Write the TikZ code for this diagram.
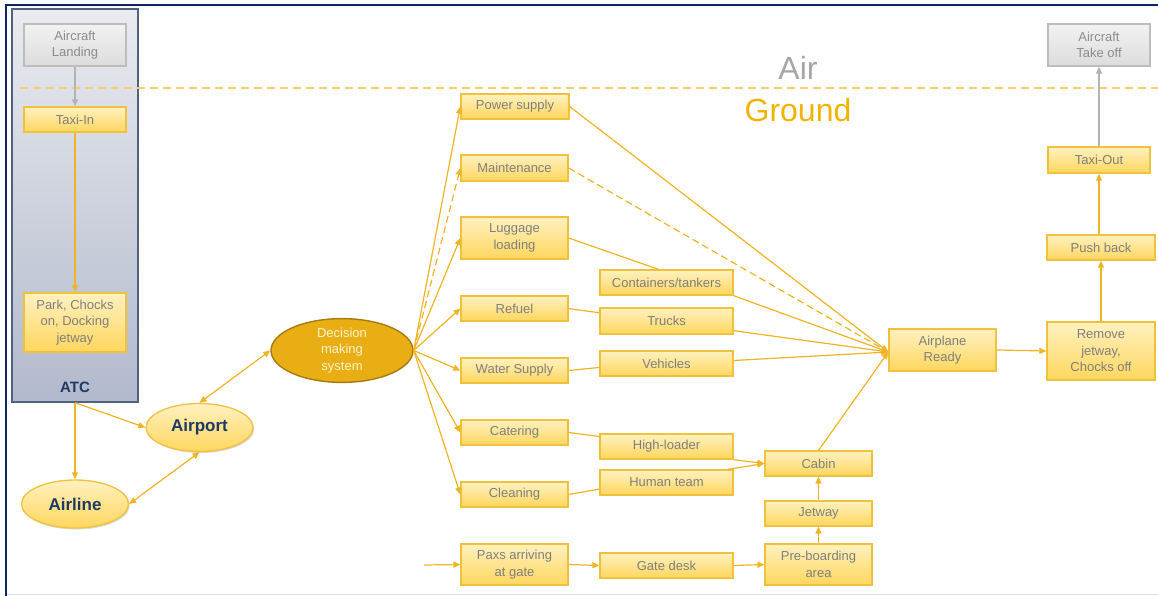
\documentclass[tikz,border=0pt]{standalone}
\usepackage{fontspec}
\setmainfont{Liberation Sans}
\usetikzlibrary{arrows.meta,shapes.geometric,shadows,calc}

\definecolor{flowcol}{HTML}{F0B323}
\definecolor{boxline}{HTML}{F2C13C}
\definecolor{boxtop}{HTML}{FFF1C0}
\definecolor{boxbot}{HTML}{FFD75E}
\definecolor{txtgray}{HTML}{7F7F7F}
\definecolor{greyline}{HTML}{BDBDBD}
\definecolor{greytop}{HTML}{F2F2F2}
\definecolor{greybot}{HTML}{DCDCDC}
\definecolor{greytxt}{HTML}{8C8C8C}
\definecolor{greyarrow}{HTML}{B3B3B3}
\definecolor{navy}{HTML}{0F2461}
\definecolor{atcline}{HTML}{50627E}
\definecolor{atctop}{HTML}{E9EBF0}
\definecolor{atcbot}{HTML}{B2B9CC}
\definecolor{labelnavy}{HTML}{1F3864}
\definecolor{dmsfill}{HTML}{E9AE14}
\definecolor{dmsline}{HTML}{A47B0E}
\definecolor{dmstext}{HTML}{FFF3CC}
\definecolor{sepcol}{HTML}{F7CD70}
\definecolor{aircol}{HTML}{A6A6A6}
\definecolor{groundcol}{HTML}{F0B400}
\definecolor{framegray}{HTML}{D9DCE3}

\begin{document}
\begin{tikzpicture}[x=1pt,y=-1pt,
  box/.style={draw=boxline, line width=1.3pt, top color=boxtop, bottom color=boxbot,
    text=txtgray, font=\fontsize{13}{16.5}\selectfont, align=center, inner sep=0pt,
    minimum width=107pt, minimum height=25pt,
    drop shadow={shadow xshift=1.2pt, shadow yshift=-1.2pt, fill=black, opacity=0.15}},
  greybox/.style={box, draw=greyline, top color=greytop, bottom color=greybot, text=greytxt},
  actor/.style={ellipse, draw=boxline, line width=1.3pt, top color=boxtop, bottom color=boxbot,
    text=labelnavy, font=\fontsize{17}{20}\selectfont\bfseries, inner sep=0pt,
    minimum width=107pt, minimum height=48pt,
    drop shadow={shadow xshift=1.2pt, shadow yshift=-1.5pt, fill=black, opacity=0.15}},
  flow/.style={draw=flowcol, line width=1.2pt},
  arr/.style={flow, -{Triangle[length=7pt,width=6pt]}},
  darr/.style={flow, {Triangle[length=7pt,width=6pt]}-{Triangle[length=7pt,width=6pt]}},
  greyarr/.style={draw=greyarrow, line width=1.2pt, -{Triangle[length=7pt,width=6pt]}},
  optional/.style={dash pattern=on 7pt off 4pt}
]
\useasboundingbox (0,0) rectangle (1158,596);

% page frame
\draw[framegray, line width=1.2pt] (6,594.5) -- (1158,594.5);
\draw[navy, line width=2pt] (6,596) -- (6,5) -- (1158,5);

% ATC swimlane
\node[draw=atcline, line width=1.3pt, top color=atctop, bottom color=atcbot,
      minimum width=126pt, minimum height=393pt, inner sep=0pt] (atc) at (75,205.5) {};
\node[text=labelnavy, font=\fontsize{15}{18}\selectfont\bfseries] (atclabel) at (75,387) {ATC};

% air / ground separator
\coordinate (sepL) at (20,88);
\coordinate (sepR) at (1158,88);
\draw[sepcol, line width=1.6pt, dash pattern=on 8pt off 5pt] (sepL) -- (sepR);
\node[text=aircol, font=\fontsize{32}{36}\selectfont] (air) at (798,68) {Air};
\node[text=groundcol, font=\fontsize{32}{36}\selectfont] (ground) at (798,110) {Ground};

% arrival side
\node[greybox, minimum width=102pt, minimum height=42pt] (AL) at (75,45) {Aircraft\\Landing};
\node[box, minimum width=102pt] (TI) at (75,119.5) {Taxi-In};
\node[box, minimum width=102pt, minimum height=59pt] (PK) at (75,322.5) {Park, Chocks\\on, Docking\\jetway};

% actors
\node[actor] (airport) at (199.5,427.5) {Airport};
\node[actor] (airline) at (75,504) {Airline};
\node[ellipse, draw=dmsline, line width=1.4pt, fill=dmsfill, text=dmstext,
      font=\fontsize{13}{16.5}\selectfont, align=center, inner sep=0pt,
      minimum width=142pt, minimum height=47pt] (dms) at (342,350.5) {Decision\\making\\system};

% ground services
\node[box, minimum width=108pt] (ps) at (515,106.5) {Power supply};
\node[box, minimum height=26pt] (mt) at (514.5,168) {Maintenance};
\node[box, minimum height=42pt] (ll) at (514.5,238) {Luggage\\loading};
\node[box] (rf) at (514.5,308.5) {Refuel};
\node[box] (ws) at (514.5,370.5) {Water Supply};
\node[box] (ct) at (514.5,432.5) {Catering};
\node[box] (cl) at (514.5,494.5) {Cleaning};
\node[box, minimum height=41pt] (px) at (514.5,564.5) {Paxs arriving\\at gate};

% resources
\node[box, minimum width=133pt] (co) at (666.5,282.5) {Containers/tankers};
\node[box, minimum width=133pt, minimum height=26pt] (tr) at (666.5,321) {Trucks};
\node[box, minimum width=133pt] (vh) at (666.5,363.5) {Vehicles};
\node[box, minimum width=133pt] (hl) at (666.5,446.5) {High-loader};
\node[box, minimum width=133pt] (ht) at (666.5,482.5) {Human team};
\node[box, minimum width=133pt] (gd) at (666.5,565.5) {Gate desk};

% boarding
\node[box] (cb) at (818.5,463.5) {Cabin};
\node[box] (jw) at (818.5,513.5) {Jetway};
\node[box, minimum height=41pt] (pb) at (818.5,564.5) {Pre-boarding\\area};

% departure side
\node[box, minimum height=42pt] (ar) at (942.5,350) {Airplane\\Ready};
\node[box, minimum width=108pt, minimum height=58pt] (rj) at (1101,351) {Remove\\jetway,\\Chocks off};
\node[box, minimum width=108pt] (pu) at (1101,247.5) {Push back};
\node[box, minimum width=102pt, minimum height=26pt] (tout) at (1099,160) {Taxi-Out};
\node[greybox, minimum width=102pt, minimum height=42pt] (ato) at (1099,45) {Aircraft\\Take off};

% arrival flow
\draw[greyarr] (AL.south) -- (TI.north);
\draw[arr] (TI.south) -- (PK.north);
\draw[arr] (atc.south) -- (airline.north);
\draw[arr] (atc.south) -- (airport.west);
\draw[darr] (airport.south) -- (airline.east);
\draw[darr] (airport.north) -- (dms.west);

% decision to services
\foreach \s in {ps,ll,rf,ws,ct,cl}
  \draw[arr] (dms.east) -- (\s.west);
\draw[arr, optional] (dms.east) -- (mt.west);

% services to airplane ready
\coordinate (arin) at ($(ar.west)+(0,2)$);
\draw[arr] (ps.east) -- (arin);
\draw[arr, optional] (mt.east) -- (arin);
\draw[flow] (ll.east) -- ($(co.north)+(-8,0)$);
\draw[arr] (co.south east) -- (arin);
\draw[flow] (rf.east) -- ($(tr.north west)!0.2!(tr.south west)$);
\draw[arr] ($(tr.south east)+(0,-4)$) -- (arin);
\draw[flow] (ws.east) -- ($(vh.north west)!0.65!(vh.south west)$);
\draw[arr] ($(vh.east)+(0,-3)$) -- (arin);
\draw[arr] (cb.north) -- (arin);

% cabin preparation
\draw[flow] (ct.east) -- ($(hl.north west)!0.12!(hl.south west)$);
\draw[arr] (hl.south east) -- (cb.west);
\draw[flow] (cl.east) -- ($(ht.north west)!0.75!(ht.south west)$);
\draw[arr] ($(ht.north east)+(-6,0)$) -- (cb.west);

% passengers
\coordinate (paxin) at (424,565);
\draw[arr] (paxin) -- (px.west);
\draw[arr] (px.east) -- (gd.west);
\draw[arr] (gd.east) -- (pb.west);
\draw[arr] (pb.north) -- (jw.south);
\draw[arr] (jw.north) -- (cb.south);

% departure flow
\draw[arr] (ar.east) -- (rj.west);
\draw[arr] (rj.north) -- (pu.south);
\draw[arr] (tout.south |- pu.north) -- (tout.south);
\draw[greyarr] (tout.north) -- (ato.south);
\end{tikzpicture}
\end{document}
